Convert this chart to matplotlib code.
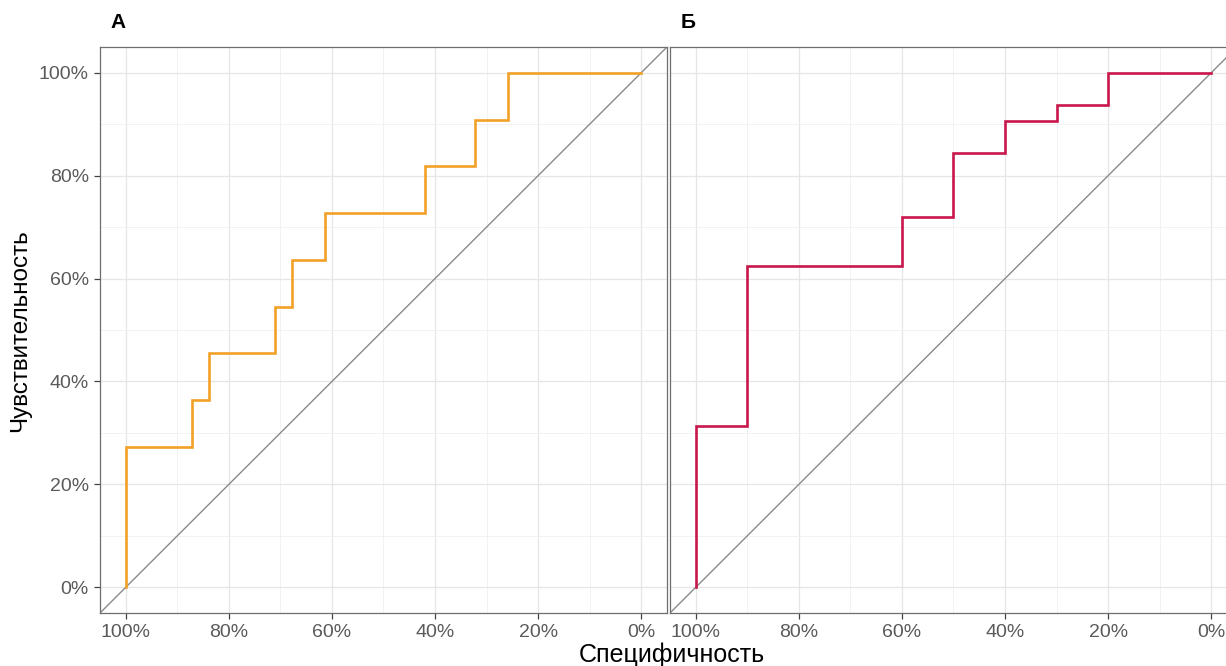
import numpy as np
import matplotlib.pyplot as plt
from matplotlib.ticker import MultipleLocator, FuncFormatter

plt.rcParams['font.family'] = ['Liberation Sans', 'DejaVu Sans']

# ROC curves: specificity (%) at each threshold and the sensitivity (%) reached there
spec_a = [100, 87.1, 83.9, 71.0, 67.7, 61.3, 41.9, 32.3, 25.8, 0]
sens_a = [0, 27.3, 36.4, 45.5, 54.5, 63.6, 72.7, 81.8, 90.9, 100]

spec_b = [100, 90, 60, 50, 40, 30, 20, 0]
sens_b = [0, 31.25, 62.5, 71.9, 84.4, 90.6, 93.8, 100]

panels = ['А', 'Б']
colors = ['#F2A128', '#C8174B']

W, H = 1226, 666
fig = plt.figure(figsize=(W / 100, H / 100), dpi=100)

ax_a = fig.add_axes([100 / W, 53 / H, 567 / W, 566 / H])
ax_b = fig.add_axes([670 / W, 53 / H, 567 / W, 566 / H])

pct = FuncFormatter(lambda v, p: f'{v:.0f}%')

for ax, name, col, xs, ys in [(ax_a, panels[0], colors[0], spec_a, sens_a),
                              (ax_b, panels[1], colors[1], spec_b, sens_b)]:
    ax.set_xlim(105, -5)
    ax.set_ylim(-5, 105)
    ax.xaxis.set_major_locator(MultipleLocator(20))
    ax.xaxis.set_minor_locator(MultipleLocator(10))
    ax.yaxis.set_major_locator(MultipleLocator(20))
    ax.yaxis.set_minor_locator(MultipleLocator(10))
    ax.xaxis.set_major_formatter(pct)
    ax.yaxis.set_major_formatter(pct)
    ax.grid(which='major', color='#E6E6E6', lw=0.9)
    ax.grid(which='minor', color='#F0F0F0', lw=0.6)
    ax.set_axisbelow(True)
    for s in ax.spines.values():
        s.set_color('#6E6E6E')
        s.set_linewidth(0.9)
    ax.tick_params(which='major', length=4, width=0.9, color='#444444',
                   labelsize=14, labelcolor='#5A5A5A', pad=4)
    ax.tick_params(which='minor', length=0)

    # chance line
    ax.axline((100, 0), (0, 100), color='#8A8A8A', lw=1.0, zorder=2)
    ax.plot(xs, ys, drawstyle='steps-pre', color=col, lw=1.9, zorder=3,
            solid_joinstyle='miter')

    ax.text(0.018, 1.027, name, transform=ax.transAxes, fontsize=15,
            fontweight='bold', ha='left', va='bottom')

ax_b.tick_params(axis='y', which='both', left=False, labelleft=False)

fig.text(20 / W, 1 - 331 / H, 'Чувствительность', rotation=90, fontsize=17.5,
         ha='center', va='center')
fig.text(672 / W, 1 - 655 / H, 'Специфичность', fontsize=18,
         ha='center', va='center')

fig.savefig('out.png', dpi=100)
